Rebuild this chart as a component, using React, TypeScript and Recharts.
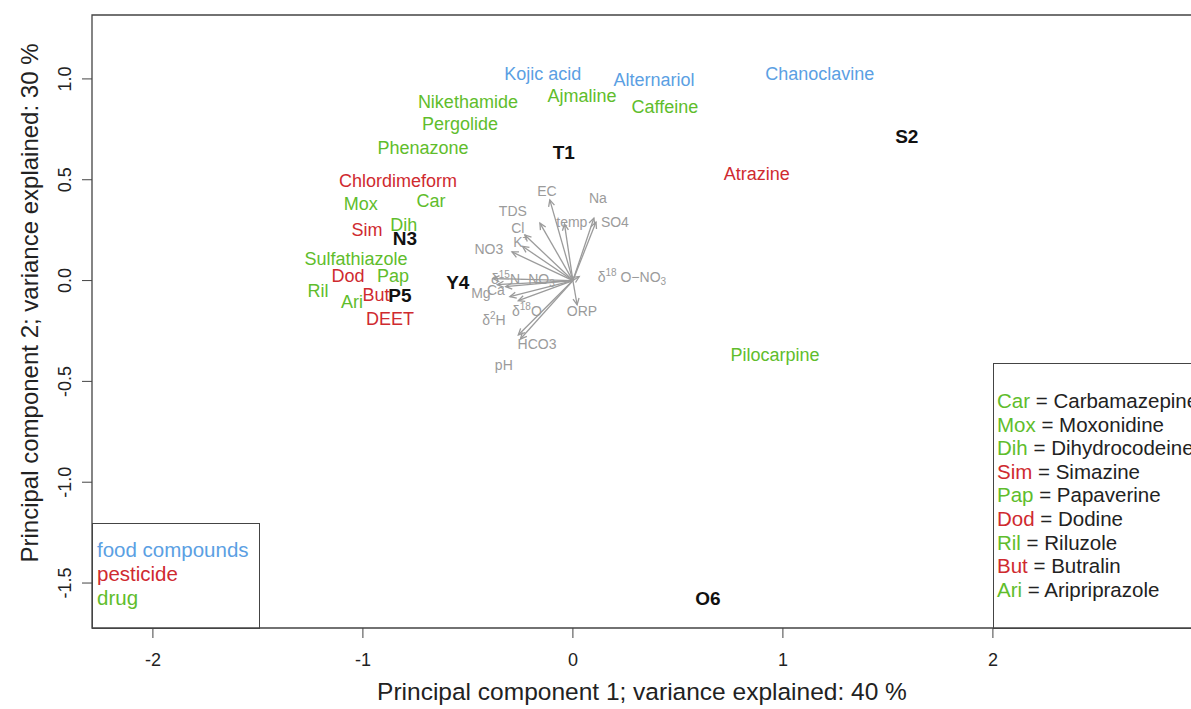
import React from 'react'
import { ScatterChart, Scatter, XAxis, YAxis, ReferenceLine, ReferenceArea } from 'recharts'

const FONT = '"Liberation Sans", Arial, Helvetica, sans-serif'
const BLUE = '#5b9fe3'
const RED = '#cf2a2f'
const GREEN = '#5fbd2c'
const GRAY = '#9b9b9b'
const INK = '#222'

// PCA biplot scores (PC1, PC2)
const foodCompounds = [
  { name: 'Kojic acid', x: -0.143, y: 1.024 },
  { name: 'Alternariol', x: 0.386, y: 0.995 },
  { name: 'Chanoclavine', x: 1.176, y: 1.024 },
]

const pesticides = [
  { name: 'Chlordimeform', x: -0.833, y: 0.494 },
  { name: 'Atrazine', x: 0.876, y: 0.529 },
  { name: 'Sim', x: -0.981, y: 0.251 },
  { name: 'Dod', x: -1.071, y: 0.023 },
  { name: 'But', x: -0.938, y: -0.072 },
  { name: 'DEET', x: -0.871, y: -0.191 },
]

const drugs = [
  { name: 'Nikethamide', x: -0.5, y: 0.886 },
  { name: 'Ajmaline', x: 0.043, y: 0.916 },
  { name: 'Caffeine', x: 0.438, y: 0.861 },
  { name: 'Pergolide', x: -0.538, y: 0.776 },
  { name: 'Phenazone', x: -0.714, y: 0.657 },
  { name: 'Mox', x: -1.01, y: 0.379 },
  { name: 'Car', x: -0.676, y: 0.394 },
  { name: 'Dih', x: -0.805, y: 0.276 },
  { name: 'Sulfathiazole', x: -1.033, y: 0.107 },
  { name: 'Pap', x: -0.857, y: 0.023 },
  { name: 'Ril', x: -1.214, y: -0.052 },
  { name: 'Ari', x: -1.052, y: -0.106 },
  { name: 'Pilocarpine', x: 0.962, y: -0.37 },
]

const samples = [
  { name: 'T1', x: -0.043, y: 0.633 },
  { name: 'S2', x: 1.59, y: 0.712 },
  { name: 'N3', x: -0.8, y: 0.211 },
  { name: 'Y4', x: -0.548, y: -0.012 },
  { name: 'P5', x: -0.824, y: -0.076 },
  { name: 'O6', x: 0.643, y: -1.575 },
]

// loadings: arrow tip (x, y) and label position (lx, ly)
const variables = [
  { name: 'EC', x: -0.11, y: 0.4, lx: -0.124, ly: 0.444 },
  { name: 'Na', x: 0.1, y: 0.31, lx: 0.119, ly: 0.409 },
  { name: 'SO4', x: 0.11, y: 0.29, lx: 0.2, ly: 0.291 },
  { name: 'temp', x: -0.04, y: 0.28, lx: -0.005, ly: 0.291 },
  { name: 'TDS', x: -0.157, y: 0.285, lx: -0.286, ly: 0.345 },
  { name: 'Cl', x: -0.229, y: 0.226, lx: -0.262, ly: 0.261 },
  { name: 'K', x: -0.24, y: 0.17, lx: -0.248, ly: 0.19 },
  { name: 'NO3', x: -0.29, y: 0.142, lx: -0.4, ly: 0.157 },
  { name: 'd15N', x: -0.38, y: 0.01, lx: -0.238, ly: 0.008 },
  { name: 'd18ONO3', x: 0.03, y: 0.02, lx: 0.281, ly: 0.018 },
  { name: 'Mg', x: -0.36, y: -0.02, lx: -0.438, ly: -0.06 },
  { name: 'Ca', x: -0.32, y: -0.03, lx: -0.367, ly: -0.045 },
  { name: 'd18O', x: -0.26, y: -0.1, lx: -0.219, ly: -0.151 },
  { name: 'd2H', x: -0.3, y: -0.08, lx: -0.376, ly: -0.196 },
  { name: 'ORP', x: 0.02, y: -0.12, lx: 0.043, ly: -0.151 },
  { name: 'HCO3', x: -0.26, y: -0.27, lx: -0.171, ly: -0.314 },
  { name: 'pH', x: -0.25, y: -0.29, lx: -0.329, ly: -0.418 },
]

const xTicks = [-2, -1, 0, 1, 2]
const yTicks = [-1.5, -1, -0.5, 0, 0.5, 1]

const groups = [
  { name: 'food compounds', color: BLUE },
  { name: 'pesticide', color: RED },
  { name: 'drug', color: GREEN },
]

const abbreviations = [
  { abbr: 'Car', full: 'Carbamazepine', color: GREEN },
  { abbr: 'Mox', full: 'Moxonidine', color: GREEN },
  { abbr: 'Dih', full: 'Dihydrocodeine', color: GREEN },
  { abbr: 'Sim', full: 'Simazine', color: RED },
  { abbr: 'Pap', full: 'Papaverine', color: GREEN },
  { abbr: 'Dod', full: 'Dodine', color: RED },
  { abbr: 'Ril', full: 'Riluzole', color: GREEN },
  { abbr: 'But', full: 'Butralin', color: RED },
  { abbr: 'Ari', full: 'Aripriprazole', color: GREEN },
]

type Part = { t: string; sup?: boolean; sub?: boolean }

const richNames: Record<string, Part[]> = {
  d15N: [{ t: 'δ' }, { t: '15', sup: true }, { t: 'N−NO' }, { t: '3', sub: true }],
  d18ONO3: [{ t: 'δ' }, { t: '18', sup: true }, { t: ' O−NO' }, { t: '3', sub: true }],
  d18O: [{ t: 'δ' }, { t: '18', sup: true }, { t: 'O' }],
  d2H: [{ t: 'δ' }, { t: '2', sup: true }, { t: 'H' }],
  K: [{ t: 'K' }, { t: '+', sup: true }],
}

function renderParts(parts: Part[]) {
  let shift = 0
  return parts.map((p, i) => {
    const target = p.sup ? -5 : p.sub ? 4 : 0
    const dy = target - shift
    shift = target
    return (
      <tspan key={i} dy={dy} fontSize={p.sup || p.sub ? 10 : undefined}>
        {p.t}
      </tspan>
    )
  })
}

function makeLabel(color: string, size: number, weight: string | number = 'normal') {
  return (props: any) => {
    const { cx, cy, payload } = props
    return (
      <text
        x={cx}
        y={cy}
        fill={color}
        fontSize={size}
        fontWeight={weight}
        fontFamily={FONT}
        textAnchor="middle"
        dominantBaseline="central"
      >
        {payload.name}
      </text>
    )
  }
}

function VarLabel(props: any) {
  const { cx, cy, payload } = props
  const parts = richNames[payload.name]
  return (
    <text
      x={cx}
      y={cy}
      fill={GRAY}
      fontSize={14}
      fontFamily={FONT}
      textAnchor="middle"
      dominantBaseline="central"
    >
      {parts ? renderParts(parts) : payload.name}
    </text>
  )
}

function Arrow(props: any) {
  const { x1, y1, x2, y2 } = props
  if (x1 == null) return <g />
  const a = Math.atan2(y2 - y1, x2 - x1)
  const len = 7
  const spread = Math.PI / 7
  const h1x = x2 - len * Math.cos(a - spread)
  const h1y = y2 - len * Math.sin(a - spread)
  const h2x = x2 - len * Math.cos(a + spread)
  const h2y = y2 - len * Math.sin(a + spread)
  return (
    <g stroke={GRAY} strokeWidth={1.3} fill="none">
      <line x1={x1} y1={y1} x2={x2} y2={y2} />
      <polyline points={`${h1x},${h1y} ${x2},${y2} ${h2x},${h2y}`} />
    </g>
  )
}

function XTick(props: any) {
  const { x, y, payload } = props
  return (
    <text x={x} y={y + 22} fill={INK} fontSize={18} fontFamily={FONT} textAnchor="middle" dominantBaseline="central">
      {String(payload.value)}
    </text>
  )
}

function YTick(props: any) {
  const { x, y, payload } = props
  const tx = x - 17
  return (
    <text
      x={tx}
      y={y}
      transform={`rotate(-90, ${tx}, ${y})`}
      fill={INK}
      fontSize={18}
      fontFamily={FONT}
      textAnchor="middle"
      dominantBaseline="central"
    >
      {payload.value.toFixed(1)}
    </text>
  )
}

const X_DOMAIN: [number, number] = [-2.29, 3.01]
const Y_DOMAIN: [number, number] = [-1.723, 1.317]

export default function App() {
  return (
    <div style={{ position: 'fixed', left: 0, top: 0, width: 1191, height: 709, overflow: 'hidden', background: '#fff', fontFamily: FONT }}>
      <ScatterChart width={1220} height={709} margin={{ top: 15, right: 15, bottom: 31, left: 32 }}>
        <XAxis
          type="number"
          dataKey="x"
          domain={X_DOMAIN}
          ticks={xTicks}
          allowDataOverflow
          axisLine={false}
          tickLine={{ stroke: '#444' }}
          tickSize={10}
          tickMargin={0}
          height={50}
          tick={<XTick />}
        />
        <YAxis
          type="number"
          dataKey="y"
          domain={Y_DOMAIN}
          ticks={yTicks}
          allowDataOverflow
          axisLine={false}
          tickLine={{ stroke: '#444' }}
          tickSize={10}
          tickMargin={0}
          width={60}
          tick={<YTick />}
        />
        <ReferenceArea
          x1={X_DOMAIN[0]}
          x2={X_DOMAIN[1]}
          y1={Y_DOMAIN[0]}
          y2={Y_DOMAIN[1]}
          fill="none"
          stroke="#444"
          strokeWidth={1.3}
          fillOpacity={0}
        />
        {variables.map((v) => (
          <ReferenceLine
            key={v.name}
            segment={[{ x: 0, y: 0 }, { x: v.x, y: v.y }]}
            shape={<Arrow />}
          />
        ))}
        <Scatter
          data={variables.map((v) => ({ name: v.name, x: v.lx, y: v.ly }))}
          shape={<VarLabel />}
          isAnimationActive={false}
        />
        <Scatter data={drugs} shape={makeLabel(GREEN, 18)} isAnimationActive={false} />
        <Scatter data={pesticides} shape={makeLabel(RED, 18)} isAnimationActive={false} />
        <Scatter data={foodCompounds} shape={makeLabel(BLUE, 18)} isAnimationActive={false} />
        <Scatter data={samples} shape={makeLabel('#111', 19, 'bold')} isAnimationActive={false} />
      </ScatterChart>

      <div style={{ position: 'absolute', left: 342, width: 600, top: 678, textAlign: 'center', fontSize: 24.5, lineHeight: '28px', color: INK, whiteSpace: 'nowrap' }}>
        Principal component 1; variance explained: 40 %
      </div>
      <div
        style={{
          position: 'absolute',
          left: 30,
          top: 303,
          transform: 'translate(-50%, -50%) rotate(-90deg)',
          fontSize: 24,
          lineHeight: '28px',
          color: INK,
          whiteSpace: 'nowrap',
        }}
      >
        Principal component 2; variance explained: 30 %
      </div>

      <div
        style={{
          position: 'absolute',
          left: 92,
          top: 523,
          width: 166,
          height: 104,
          border: '1.3px solid #444',
        }}
      >
        <div style={{ paddingTop: 14, paddingLeft: 4 }}>
          {groups.map((g) => (
            <div key={g.name} style={{ color: g.color, fontSize: 20.5, lineHeight: '24px', whiteSpace: 'nowrap' }}>
              {g.name}
            </div>
          ))}
        </div>
      </div>

      <div
        style={{
          position: 'absolute',
          left: 993,
          top: 363,
          width: 260,
          height: 264,
          border: '1.3px solid #444',
        }}
      >
        <div style={{ paddingTop: 25, paddingLeft: 3 }}>
          {abbreviations.map((a) => (
            <div key={a.abbr} style={{ fontSize: 20.5, lineHeight: '23.6px', whiteSpace: 'nowrap', color: INK }}>
              <span style={{ color: a.color }}>{a.abbr}</span> = {a.full}
            </div>
          ))}
        </div>
      </div>
    </div>
  )
}
